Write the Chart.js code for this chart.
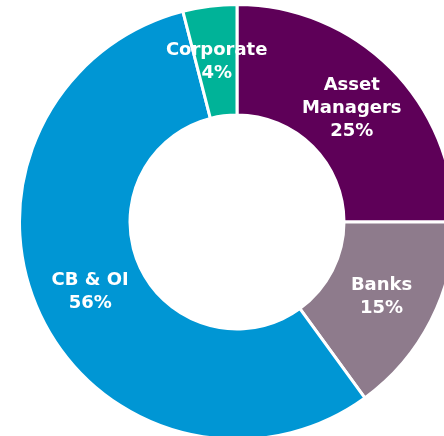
<!DOCTYPE html>
<html>
<head>
<meta charset="utf-8">
<script src="https://cdn.jsdelivr.net/npm/chart.js@4"></script>
<style>
  html, body { margin: 0; padding: 0; overflow: hidden; background: #fff; width: 444px; height: 436px; }
  #wrap { position: absolute; left: 17px; top: 2px; width: 440px; height: 440px; }
</style>
</head>
<body>
<div id="wrap"><canvas id="donut"></canvas></div>
<script>
const categories = [['Asset', 'Managers'], ['Banks'], ['CB & OI'], ['Corporate']];
const shares = [25, 15, 56, 4];
const colours = ['#5e0058', '#8e7b8c', '#0096d4', '#00b398'];

// draws the white category + percent text in the middle of each slice
const sliceLabels = {
  id: 'sliceLabels',
  afterDatasetsDraw(chart) {
    const ctx = chart.ctx;
    const meta = chart.getDatasetMeta(0);
    ctx.save();
    ctx.fillStyle = '#ffffff';
    ctx.font = 'bold 18px "DejaVu Sans", Verdana, sans-serif';
    ctx.textAlign = 'center';
    ctx.textBaseline = 'middle';
    meta.data.forEach(function(arc, i) {
      const pos = arc.tooltipPosition();
      const lines = categories[i].concat([shares[i] + '%']);
      const lh = 23;
      const top = pos.y + 1 - (lines.length - 1) * lh / 2;
      lines.forEach(function(t, j) {
        ctx.fillText(t, pos.x, top + j * lh);
      });
    });
    ctx.restore();
  }
};

new Chart(document.getElementById('donut'), {
  type: 'doughnut',
  data: {
    labels: categories,
    datasets: [{
      data: shares,
      backgroundColor: colours,
      borderColor: '#ffffff',
      borderWidth: 3,
      hoverOffset: 0
    }]
  },
  options: {
    responsive: true,
    maintainAspectRatio: false,
    animation: false,
    radius: 217.5,
    cutout: '49.2%',
    layout: { padding: 0 },
    plugins: {
      legend: { display: false },
      tooltip: { enabled: false }
    }
  },
  plugins: [sliceLabels]
});
</script>
</body>
</html>
